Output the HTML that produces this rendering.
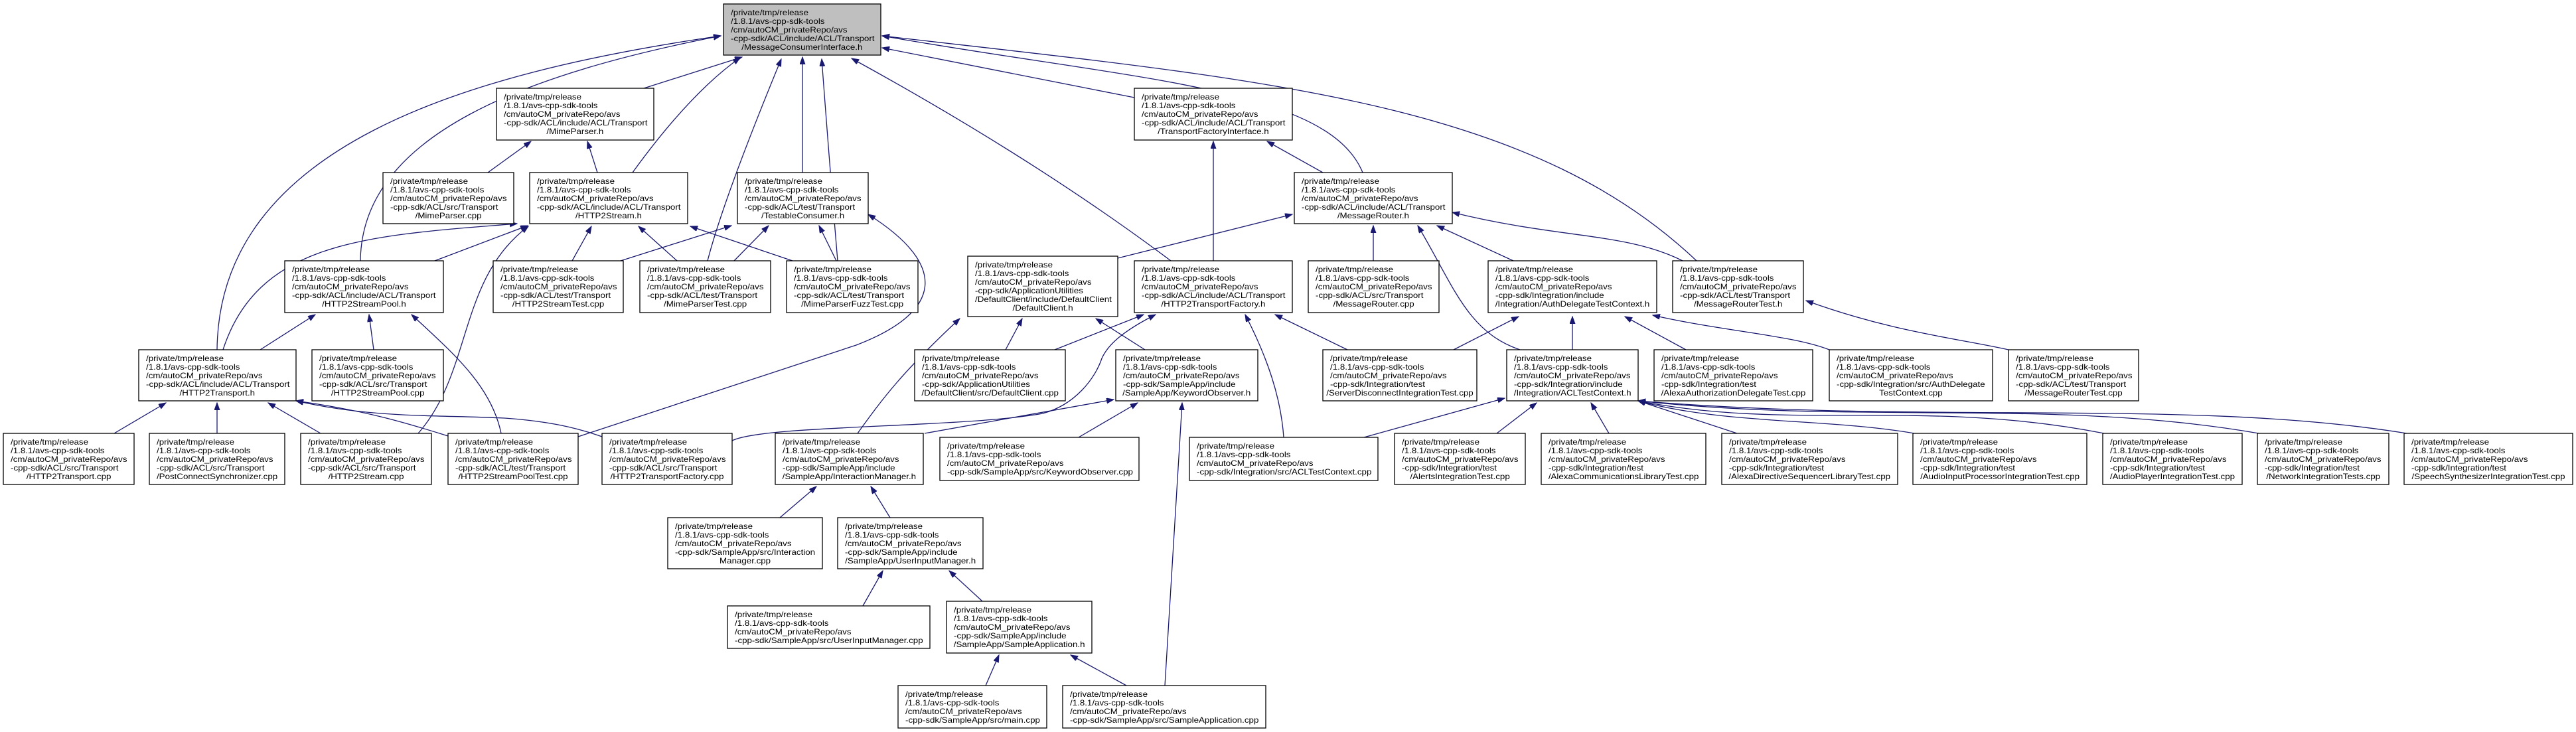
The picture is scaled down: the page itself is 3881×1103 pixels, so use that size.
<!DOCTYPE html>
<html><head><meta charset="utf-8"><style>
html,body{margin:0;padding:0;background:#fff;}
svg{display:block;}
text{font-family:"Liberation Sans",Arial,sans-serif;font-size:11.5px;fill:#000;}
rect{fill:#fff;stroke:#000;stroke-width:1.3;}
.e{fill:none;stroke:#191970;stroke-width:1.3;marker-start:url(#a);}
</style></head><body>
<svg width="3881" height="1103" viewBox="0 0 3881 1103" xmlns="http://www.w3.org/2000/svg">
<defs><marker id="a" markerUnits="userSpaceOnUse" markerWidth="12" markerHeight="9" refX="11" refY="4" orient="auto-start-reverse"><path d="M0,0 L11,4 L0,8 z" fill="#191970" stroke="#191970"/></marker></defs>
<g>
<path class="e" d="M1118,86 L970,133"/>
<path class="e" d="M1115,87 Q1040,140 953,260"/>
<path class="e" d="M1209,86 L1209,260"/>
<path class="e" d="M1177,89 Q1090,300 1066,393"/>
<path class="e" d="M1238,89 Q1250,250 1262,393"/>
<path class="e" d="M1283,88 Q1560,240 1764,393"/>
<path class="e" d="M1086,54 C800,110 545,200 543,393"/>
<path class="e" d="M1086,54 C700,110 330,220 327,527"/>
<path class="e" d="M1329,72 L1709,147"/>
<path class="e" d="M1329,54 C1700,120 2000,130 2053,260"/>
<path class="e" d="M1329,54 C1900,120 2300,150 2556,393"/>
<path class="e" d="M800,213 L735,260"/>
<path class="e" d="M885,213 L900,260"/>
<path class="e" d="M795,340 L655,393"/>
<path class="e" d="M779,337 C560,355 390,360 336,527"/>
<path class="e" d="M891,341 L862,393"/>
<path class="e" d="M962,341 L1020,393"/>
<path class="e" d="M1040,341 L1194,393"/>
<path class="e" d="M796,341 C690,420 712,560 630,653"/>
<path class="e" d="M620,474 C680,530 740,580 755,653"/>
<path class="e" d="M1102,340 L935,393"/>
<path class="e" d="M1158,340 L1106,393"/>
<path class="e" d="M1234,340 L1260,393"/>
<path class="e" d="M1308,323 C1430,400 1420,470 1290,520 L871,658"/>
<path class="e" d="M475,474 L392,527"/>
<path class="e" d="M556,474 L563,527"/>
<path class="e" d="M250,607 L172,653"/>
<path class="e" d="M327,607 L327,653"/>
<path class="e" d="M404,607 L483,653"/>
<path class="e" d="M446,604 C560,620 620,640 675,657"/>
<path class="e" d="M446,604 C560,630 650,625 760,630 C830,635 870,645 907,658"/>
<path class="e" d="M1828,213 L1828,393"/>
<path class="e" d="M1909,213 L1993,260"/>
<path class="e" d="M1947,323 L1684,389"/>
<path class="e" d="M2069,340 L2069,393"/>
<path class="e" d="M2165,340 L2280,393"/>
<path class="e" d="M2136,340 C2190,430 2210,500 2290,527"/>
<path class="e" d="M2188,320 C2350,360 2450,350 2535,393"/>
<path class="e" d="M1540,480 L1515,527"/>
<path class="e" d="M1651,480 L1725,527"/>
<path class="e" d="M1446,480 C1360,560 1330,600 1292,653"/>
<path class="e" d="M1723,474 L1589,527"/>
<path class="e" d="M1741,474 C1690,500 1669,520 1660,540 C1650,570 1620,610 1571,623 C1450,645 1150,640 1103,664"/>
<path class="e" d="M1921,474 L2030,527"/>
<path class="e" d="M1876,474 C1910,540 1930,600 1934,659"/>
<path class="e" d="M1678,602 L1393,653"/>
<path class="e" d="M1714,607 L1625,659"/>
<path class="e" d="M1781,607 L1755,1033"/>
<path class="e" d="M2288,477 L2190,527"/>
<path class="e" d="M2369,477 L2369,527"/>
<path class="e" d="M2448,477 L2540,527"/>
<path class="e" d="M2490,475 C2600,500 2700,505 2756,527"/>
<path class="e" d="M2721,453 C2850,500 2950,510 3026,527"/>
<path class="e" d="M2267,600 L2055,659"/>
<path class="e" d="M2315,607 L2255,653"/>
<path class="e" d="M2397,607 L2424,653"/>
<path class="e" d="M2468,604 L2617,653"/>
<path class="e" d="M2468,604 C2600,640 2750,630 2884,653"/>
<path class="e" d="M2468,604 C2700,650 2900,600 3170,653"/>
<path class="e" d="M2468,604 C2800,640 3100,600 3403,653"/>
<path class="e" d="M2468,604 C2900,640 3300,600 3626,653"/>
<path class="e" d="M1230,733 L1175,780"/>
<path class="e" d="M1312,733 L1341,780"/>
<path class="e" d="M1330,860 L1300,913"/>
<path class="e" d="M1430,860 L1480,906"/>
<path class="e" d="M1505,987 L1485,1033"/>
<path class="e" d="M1613,987 L1697,1033"/>
</g>

<g transform="translate(1090,6)"><rect width="237" height="77" style="fill:#bfbfbf"/><text transform="scale(1.16,1)"><tspan x="9.5" y="17">/private/tmp/release</tspan><tspan x="9.5" y="30">/1.8.1/avs-cpp-sdk-tools</tspan><tspan x="9.5" y="43">/cm/autoCM_privateRepo/avs</tspan><tspan x="9.5" y="56">-cpp-sdk/ACL/include/ACL/Transport</tspan><tspan x="102" y="69" text-anchor="middle">/MessageConsumerInterface.h</tspan></text></g>

<g transform="translate(748,133)"><rect width="237" height="78"/><text transform="scale(1.16,1)"><tspan x="9.5" y="17">/private/tmp/release</tspan><tspan x="9.5" y="30">/1.8.1/avs-cpp-sdk-tools</tspan><tspan x="9.5" y="43">/cm/autoCM_privateRepo/avs</tspan><tspan x="9.5" y="56">-cpp-sdk/ACL/include/ACL/Transport</tspan><tspan x="102" y="69" text-anchor="middle">/MimeParser.h</tspan></text></g>

<g transform="translate(1709,133)"><rect width="238" height="78"/><text transform="scale(1.16,1)"><tspan x="9.5" y="17">/private/tmp/release</tspan><tspan x="9.5" y="30">/1.8.1/avs-cpp-sdk-tools</tspan><tspan x="9.5" y="43">/cm/autoCM_privateRepo/avs</tspan><tspan x="9.5" y="56">-cpp-sdk/ACL/include/ACL/Transport</tspan><tspan x="102.5" y="69" text-anchor="middle">/TransportFactoryInterface.h</tspan></text></g>

<g transform="translate(577,260)"><rect width="197" height="77"/><text transform="scale(1.16,1)"><tspan x="9.5" y="17">/private/tmp/release</tspan><tspan x="9.5" y="30">/1.8.1/avs-cpp-sdk-tools</tspan><tspan x="9.5" y="43">/cm/autoCM_privateRepo/avs</tspan><tspan x="9.5" y="56">-cpp-sdk/ACL/src/Transport</tspan><tspan x="85" y="69" text-anchor="middle">/MimeParser.cpp</tspan></text></g>

<g transform="translate(798,260)"><rect width="238" height="77"/><text transform="scale(1.16,1)"><tspan x="9.5" y="17">/private/tmp/release</tspan><tspan x="9.5" y="30">/1.8.1/avs-cpp-sdk-tools</tspan><tspan x="9.5" y="43">/cm/autoCM_privateRepo/avs</tspan><tspan x="9.5" y="56">-cpp-sdk/ACL/include/ACL/Transport</tspan><tspan x="102.5" y="69" text-anchor="middle">/HTTP2Stream.h</tspan></text></g>

<g transform="translate(1111,260)"><rect width="197" height="77"/><text transform="scale(1.16,1)"><tspan x="9.5" y="17">/private/tmp/release</tspan><tspan x="9.5" y="30">/1.8.1/avs-cpp-sdk-tools</tspan><tspan x="9.5" y="43">/cm/autoCM_privateRepo/avs</tspan><tspan x="9.5" y="56">-cpp-sdk/ACL/test/Transport</tspan><tspan x="85" y="69" text-anchor="middle">/TestableConsumer.h</tspan></text></g>

<g transform="translate(1950,260)"><rect width="238" height="77"/><text transform="scale(1.16,1)"><tspan x="9.5" y="17">/private/tmp/release</tspan><tspan x="9.5" y="30">/1.8.1/avs-cpp-sdk-tools</tspan><tspan x="9.5" y="43">/cm/autoCM_privateRepo/avs</tspan><tspan x="9.5" y="56">-cpp-sdk/ACL/include/ACL/Transport</tspan><tspan x="102.5" y="69" text-anchor="middle">/MessageRouter.h</tspan></text></g>

<g transform="translate(429,393)"><rect width="239" height="78"/><text transform="scale(1.16,1)"><tspan x="9.5" y="17">/private/tmp/release</tspan><tspan x="9.5" y="30">/1.8.1/avs-cpp-sdk-tools</tspan><tspan x="9.5" y="43">/cm/autoCM_privateRepo/avs</tspan><tspan x="9.5" y="56">-cpp-sdk/ACL/include/ACL/Transport</tspan><tspan x="103" y="69" text-anchor="middle">/HTTP2StreamPool.h</tspan></text></g>

<g transform="translate(743,393)"><rect width="196" height="78"/><text transform="scale(1.16,1)"><tspan x="9.5" y="17">/private/tmp/release</tspan><tspan x="9.5" y="30">/1.8.1/avs-cpp-sdk-tools</tspan><tspan x="9.5" y="43">/cm/autoCM_privateRepo/avs</tspan><tspan x="9.5" y="56">-cpp-sdk/ACL/test/Transport</tspan><tspan x="84.5" y="69" text-anchor="middle">/HTTP2StreamTest.cpp</tspan></text></g>

<g transform="translate(964,393)"><rect width="197" height="78"/><text transform="scale(1.16,1)"><tspan x="9.5" y="17">/private/tmp/release</tspan><tspan x="9.5" y="30">/1.8.1/avs-cpp-sdk-tools</tspan><tspan x="9.5" y="43">/cm/autoCM_privateRepo/avs</tspan><tspan x="9.5" y="56">-cpp-sdk/ACL/test/Transport</tspan><tspan x="85" y="69" text-anchor="middle">/MimeParserTest.cpp</tspan></text></g>

<g transform="translate(1185,393)"><rect width="198" height="78"/><text transform="scale(1.16,1)"><tspan x="9.5" y="17">/private/tmp/release</tspan><tspan x="9.5" y="30">/1.8.1/avs-cpp-sdk-tools</tspan><tspan x="9.5" y="43">/cm/autoCM_privateRepo/avs</tspan><tspan x="9.5" y="56">-cpp-sdk/ACL/test/Transport</tspan><tspan x="85.5" y="69" text-anchor="middle">/MimeParserFuzzTest.cpp</tspan></text></g>

<g transform="translate(1458,386)"><rect width="226" height="91"/><text transform="scale(1.16,1)"><tspan x="9.5" y="17">/private/tmp/release</tspan><tspan x="9.5" y="30">/1.8.1/avs-cpp-sdk-tools</tspan><tspan x="9.5" y="43">/cm/autoCM_privateRepo/avs</tspan><tspan x="9.5" y="56">-cpp-sdk/ApplicationUtilities</tspan><tspan x="9.5" y="69">/DefaultClient/include/DefaultClient</tspan><tspan x="97.5" y="82" text-anchor="middle">/DefaultClient.h</tspan></text></g>

<g transform="translate(1709,393)"><rect width="238" height="78"/><text transform="scale(1.16,1)"><tspan x="9.5" y="17">/private/tmp/release</tspan><tspan x="9.5" y="30">/1.8.1/avs-cpp-sdk-tools</tspan><tspan x="9.5" y="43">/cm/autoCM_privateRepo/avs</tspan><tspan x="9.5" y="56">-cpp-sdk/ACL/include/ACL/Transport</tspan><tspan x="102.5" y="69" text-anchor="middle">/HTTP2TransportFactory.h</tspan></text></g>

<g transform="translate(1971,393)"><rect width="197" height="78"/><text transform="scale(1.16,1)"><tspan x="9.5" y="17">/private/tmp/release</tspan><tspan x="9.5" y="30">/1.8.1/avs-cpp-sdk-tools</tspan><tspan x="9.5" y="43">/cm/autoCM_privateRepo/avs</tspan><tspan x="9.5" y="56">-cpp-sdk/ACL/src/Transport</tspan><tspan x="85" y="69" text-anchor="middle">/MessageRouter.cpp</tspan></text></g>

<g transform="translate(2242,393)"><rect width="254" height="78"/><text transform="scale(1.16,1)"><tspan x="9.5" y="17">/private/tmp/release</tspan><tspan x="9.5" y="30">/1.8.1/avs-cpp-sdk-tools</tspan><tspan x="9.5" y="43">/cm/autoCM_privateRepo/avs</tspan><tspan x="9.5" y="56">-cpp-sdk/Integration/include</tspan><tspan x="109.5" y="69" text-anchor="middle">/Integration/AuthDelegateTestContext.h</tspan></text></g>

<g transform="translate(2520,393)"><rect width="197" height="78"/><text transform="scale(1.16,1)"><tspan x="9.5" y="17">/private/tmp/release</tspan><tspan x="9.5" y="30">/1.8.1/avs-cpp-sdk-tools</tspan><tspan x="9.5" y="43">/cm/autoCM_privateRepo/avs</tspan><tspan x="9.5" y="56">-cpp-sdk/ACL/test/Transport</tspan><tspan x="85" y="69" text-anchor="middle">/MessageRouterTest.h</tspan></text></g>

<g transform="translate(209,527)"><rect width="237" height="77"/><text transform="scale(1.16,1)"><tspan x="9.5" y="17">/private/tmp/release</tspan><tspan x="9.5" y="30">/1.8.1/avs-cpp-sdk-tools</tspan><tspan x="9.5" y="43">/cm/autoCM_privateRepo/avs</tspan><tspan x="9.5" y="56">-cpp-sdk/ACL/include/ACL/Transport</tspan><tspan x="102" y="69" text-anchor="middle">/HTTP2Transport.h</tspan></text></g>

<g transform="translate(470,527)"><rect width="198" height="77"/><text transform="scale(1.16,1)"><tspan x="9.5" y="17">/private/tmp/release</tspan><tspan x="9.5" y="30">/1.8.1/avs-cpp-sdk-tools</tspan><tspan x="9.5" y="43">/cm/autoCM_privateRepo/avs</tspan><tspan x="9.5" y="56">-cpp-sdk/ACL/src/Transport</tspan><tspan x="85.5" y="69" text-anchor="middle">/HTTP2StreamPool.cpp</tspan></text></g>

<g transform="translate(1378,527)"><rect width="227" height="77"/><text transform="scale(1.16,1)"><tspan x="9.5" y="17">/private/tmp/release</tspan><tspan x="9.5" y="30">/1.8.1/avs-cpp-sdk-tools</tspan><tspan x="9.5" y="43">/cm/autoCM_privateRepo/avs</tspan><tspan x="9.5" y="56">-cpp-sdk/ApplicationUtilities</tspan><tspan x="98" y="69" text-anchor="middle">/DefaultClient/src/DefaultClient.cpp</tspan></text></g>

<g transform="translate(1681,527)"><rect width="214" height="77"/><text transform="scale(1.16,1)"><tspan x="9.5" y="17">/private/tmp/release</tspan><tspan x="9.5" y="30">/1.8.1/avs-cpp-sdk-tools</tspan><tspan x="9.5" y="43">/cm/autoCM_privateRepo/avs</tspan><tspan x="9.5" y="56">-cpp-sdk/SampleApp/include</tspan><tspan x="92" y="69" text-anchor="middle">/SampleApp/KeywordObserver.h</tspan></text></g>

<g transform="translate(1993,527)"><rect width="232" height="77"/><text transform="scale(1.16,1)"><tspan x="9.5" y="17">/private/tmp/release</tspan><tspan x="9.5" y="30">/1.8.1/avs-cpp-sdk-tools</tspan><tspan x="9.5" y="43">/cm/autoCM_privateRepo/avs</tspan><tspan x="9.5" y="56">-cpp-sdk/Integration/test</tspan><tspan x="100" y="69" text-anchor="middle">/ServerDisconnectIntegrationTest.cpp</tspan></text></g>

<g transform="translate(2270,527)"><rect width="198" height="77"/><text transform="scale(1.16,1)"><tspan x="9.5" y="17">/private/tmp/release</tspan><tspan x="9.5" y="30">/1.8.1/avs-cpp-sdk-tools</tspan><tspan x="9.5" y="43">/cm/autoCM_privateRepo/avs</tspan><tspan x="9.5" y="56">-cpp-sdk/Integration/include</tspan><tspan x="85.5" y="69" text-anchor="middle">/Integration/ACLTestContext.h</tspan></text></g>

<g transform="translate(2492,527)"><rect width="239" height="77"/><text transform="scale(1.16,1)"><tspan x="9.5" y="17">/private/tmp/release</tspan><tspan x="9.5" y="30">/1.8.1/avs-cpp-sdk-tools</tspan><tspan x="9.5" y="43">/cm/autoCM_privateRepo/avs</tspan><tspan x="9.5" y="56">-cpp-sdk/Integration/test</tspan><tspan x="103" y="69" text-anchor="middle">/AlexaAuthorizationDelegateTest.cpp</tspan></text></g>

<g transform="translate(2756,527)"><rect width="246" height="77"/><text transform="scale(1.16,1)"><tspan x="9.5" y="17">/private/tmp/release</tspan><tspan x="9.5" y="30">/1.8.1/avs-cpp-sdk-tools</tspan><tspan x="9.5" y="43">/cm/autoCM_privateRepo/avs</tspan><tspan x="9.5" y="56">-cpp-sdk/Integration/src/AuthDelegate</tspan><tspan x="106" y="69" text-anchor="middle">TestContext.cpp</tspan></text></g>

<g transform="translate(3026,527)"><rect width="196" height="77"/><text transform="scale(1.16,1)"><tspan x="9.5" y="17">/private/tmp/release</tspan><tspan x="9.5" y="30">/1.8.1/avs-cpp-sdk-tools</tspan><tspan x="9.5" y="43">/cm/autoCM_privateRepo/avs</tspan><tspan x="9.5" y="56">-cpp-sdk/ACL/test/Transport</tspan><tspan x="84.5" y="69" text-anchor="middle">/MessageRouterTest.cpp</tspan></text></g>

<g transform="translate(5,653)"><rect width="197" height="77"/><text transform="scale(1.16,1)"><tspan x="9.5" y="17">/private/tmp/release</tspan><tspan x="9.5" y="30">/1.8.1/avs-cpp-sdk-tools</tspan><tspan x="9.5" y="43">/cm/autoCM_privateRepo/avs</tspan><tspan x="9.5" y="56">-cpp-sdk/ACL/src/Transport</tspan><tspan x="85" y="69" text-anchor="middle">/HTTP2Transport.cpp</tspan></text></g>

<g transform="translate(225,653)"><rect width="204" height="77"/><text transform="scale(1.16,1)"><tspan x="9.5" y="17">/private/tmp/release</tspan><tspan x="9.5" y="30">/1.8.1/avs-cpp-sdk-tools</tspan><tspan x="9.5" y="43">/cm/autoCM_privateRepo/avs</tspan><tspan x="9.5" y="56">-cpp-sdk/ACL/src/Transport</tspan><tspan x="88" y="69" text-anchor="middle">/PostConnectSynchronizer.cpp</tspan></text></g>

<g transform="translate(453,653)"><rect width="197" height="77"/><text transform="scale(1.16,1)"><tspan x="9.5" y="17">/private/tmp/release</tspan><tspan x="9.5" y="30">/1.8.1/avs-cpp-sdk-tools</tspan><tspan x="9.5" y="43">/cm/autoCM_privateRepo/avs</tspan><tspan x="9.5" y="56">-cpp-sdk/ACL/src/Transport</tspan><tspan x="85" y="69" text-anchor="middle">/HTTP2Stream.cpp</tspan></text></g>

<g transform="translate(675,653)"><rect width="196" height="77"/><text transform="scale(1.16,1)"><tspan x="9.5" y="17">/private/tmp/release</tspan><tspan x="9.5" y="30">/1.8.1/avs-cpp-sdk-tools</tspan><tspan x="9.5" y="43">/cm/autoCM_privateRepo/avs</tspan><tspan x="9.5" y="56">-cpp-sdk/ACL/test/Transport</tspan><tspan x="84.5" y="69" text-anchor="middle">/HTTP2StreamPoolTest.cpp</tspan></text></g>

<g transform="translate(907,653)"><rect width="196" height="77"/><text transform="scale(1.16,1)"><tspan x="9.5" y="17">/private/tmp/release</tspan><tspan x="9.5" y="30">/1.8.1/avs-cpp-sdk-tools</tspan><tspan x="9.5" y="43">/cm/autoCM_privateRepo/avs</tspan><tspan x="9.5" y="56">-cpp-sdk/ACL/src/Transport</tspan><tspan x="84.5" y="69" text-anchor="middle">/HTTP2TransportFactory.cpp</tspan></text></g>

<g transform="translate(1168,653)"><rect width="223" height="77"/><text transform="scale(1.16,1)"><tspan x="9.5" y="17">/private/tmp/release</tspan><tspan x="9.5" y="30">/1.8.1/avs-cpp-sdk-tools</tspan><tspan x="9.5" y="43">/cm/autoCM_privateRepo/avs</tspan><tspan x="9.5" y="56">-cpp-sdk/SampleApp/include</tspan><tspan x="96" y="69" text-anchor="middle">/SampleApp/InteractionManager.h</tspan></text></g>

<g transform="translate(1416,659)"><rect width="300" height="65"/><text transform="scale(1.16,1)"><tspan x="9.5" y="17">/private/tmp/release</tspan><tspan x="9.5" y="30">/1.8.1/avs-cpp-sdk-tools</tspan><tspan x="9.5" y="43">/cm/autoCM_privateRepo/avs</tspan><tspan x="9.5" y="56">-cpp-sdk/SampleApp/src/KeywordObserver.cpp</tspan></text></g>

<g transform="translate(1792,659)"><rect width="284" height="65"/><text transform="scale(1.16,1)"><tspan x="9.5" y="17">/private/tmp/release</tspan><tspan x="9.5" y="30">/1.8.1/avs-cpp-sdk-tools</tspan><tspan x="9.5" y="43">/cm/autoCM_privateRepo/avs</tspan><tspan x="9.5" y="56">-cpp-sdk/Integration/src/ACLTestContext.cpp</tspan></text></g>

<g transform="translate(2101,653)"><rect width="197" height="77"/><text transform="scale(1.16,1)"><tspan x="9.5" y="17">/private/tmp/release</tspan><tspan x="9.5" y="30">/1.8.1/avs-cpp-sdk-tools</tspan><tspan x="9.5" y="43">/cm/autoCM_privateRepo/avs</tspan><tspan x="9.5" y="56">-cpp-sdk/Integration/test</tspan><tspan x="85" y="69" text-anchor="middle">/AlertsIntegrationTest.cpp</tspan></text></g>

<g transform="translate(2322,653)"><rect width="248" height="77"/><text transform="scale(1.16,1)"><tspan x="9.5" y="17">/private/tmp/release</tspan><tspan x="9.5" y="30">/1.8.1/avs-cpp-sdk-tools</tspan><tspan x="9.5" y="43">/cm/autoCM_privateRepo/avs</tspan><tspan x="9.5" y="56">-cpp-sdk/Integration/test</tspan><tspan x="107" y="69" text-anchor="middle">/AlexaCommunicationsLibraryTest.cpp</tspan></text></g>

<g transform="translate(2594,653)"><rect width="265" height="77"/><text transform="scale(1.16,1)"><tspan x="9.5" y="17">/private/tmp/release</tspan><tspan x="9.5" y="30">/1.8.1/avs-cpp-sdk-tools</tspan><tspan x="9.5" y="43">/cm/autoCM_privateRepo/avs</tspan><tspan x="9.5" y="56">-cpp-sdk/Integration/test</tspan><tspan x="114" y="69" text-anchor="middle">/AlexaDirectiveSequencerLibraryTest.cpp</tspan></text></g>

<g transform="translate(2882,653)"><rect width="262" height="77"/><text transform="scale(1.16,1)"><tspan x="9.5" y="17">/private/tmp/release</tspan><tspan x="9.5" y="30">/1.8.1/avs-cpp-sdk-tools</tspan><tspan x="9.5" y="43">/cm/autoCM_privateRepo/avs</tspan><tspan x="9.5" y="56">-cpp-sdk/Integration/test</tspan><tspan x="113" y="69" text-anchor="middle">/AudioInputProcessorIntegrationTest.cpp</tspan></text></g>

<g transform="translate(3168,653)"><rect width="210" height="77"/><text transform="scale(1.16,1)"><tspan x="9.5" y="17">/private/tmp/release</tspan><tspan x="9.5" y="30">/1.8.1/avs-cpp-sdk-tools</tspan><tspan x="9.5" y="43">/cm/autoCM_privateRepo/avs</tspan><tspan x="9.5" y="56">-cpp-sdk/Integration/test</tspan><tspan x="90.5" y="69" text-anchor="middle">/AudioPlayerIntegrationTest.cpp</tspan></text></g>

<g transform="translate(3401,653)"><rect width="198" height="77"/><text transform="scale(1.16,1)"><tspan x="9.5" y="17">/private/tmp/release</tspan><tspan x="9.5" y="30">/1.8.1/avs-cpp-sdk-tools</tspan><tspan x="9.5" y="43">/cm/autoCM_privateRepo/avs</tspan><tspan x="9.5" y="56">-cpp-sdk/Integration/test</tspan><tspan x="85.5" y="69" text-anchor="middle">/NetworkIntegrationTests.cpp</tspan></text></g>

<g transform="translate(3622,653)"><rect width="254" height="77"/><text transform="scale(1.16,1)"><tspan x="9.5" y="17">/private/tmp/release</tspan><tspan x="9.5" y="30">/1.8.1/avs-cpp-sdk-tools</tspan><tspan x="9.5" y="43">/cm/autoCM_privateRepo/avs</tspan><tspan x="9.5" y="56">-cpp-sdk/Integration/test</tspan><tspan x="109.5" y="69" text-anchor="middle">/SpeechSynthesizerIntegrationTest.cpp</tspan></text></g>

<g transform="translate(1006,780)"><rect width="233" height="77"/><text transform="scale(1.16,1)"><tspan x="9.5" y="17">/private/tmp/release</tspan><tspan x="9.5" y="30">/1.8.1/avs-cpp-sdk-tools</tspan><tspan x="9.5" y="43">/cm/autoCM_privateRepo/avs</tspan><tspan x="9.5" y="56">-cpp-sdk/SampleApp/src/Interaction</tspan><tspan x="100.5" y="69" text-anchor="middle">Manager.cpp</tspan></text></g>

<g transform="translate(1262,780)"><rect width="219" height="77"/><text transform="scale(1.16,1)"><tspan x="9.5" y="17">/private/tmp/release</tspan><tspan x="9.5" y="30">/1.8.1/avs-cpp-sdk-tools</tspan><tspan x="9.5" y="43">/cm/autoCM_privateRepo/avs</tspan><tspan x="9.5" y="56">-cpp-sdk/SampleApp/include</tspan><tspan x="94.5" y="69" text-anchor="middle">/SampleApp/UserInputManager.h</tspan></text></g>

<g transform="translate(1096,913)"><rect width="305" height="64"/><text transform="scale(1.16,1)"><tspan x="9.5" y="17">/private/tmp/release</tspan><tspan x="9.5" y="30">/1.8.1/avs-cpp-sdk-tools</tspan><tspan x="9.5" y="43">/cm/autoCM_privateRepo/avs</tspan><tspan x="9.5" y="56">-cpp-sdk/SampleApp/src/UserInputManager.cpp</tspan></text></g>

<g transform="translate(1426,906)"><rect width="219" height="78"/><text transform="scale(1.16,1)"><tspan x="9.5" y="17">/private/tmp/release</tspan><tspan x="9.5" y="30">/1.8.1/avs-cpp-sdk-tools</tspan><tspan x="9.5" y="43">/cm/autoCM_privateRepo/avs</tspan><tspan x="9.5" y="56">-cpp-sdk/SampleApp/include</tspan><tspan x="94.5" y="69" text-anchor="middle">/SampleApp/SampleApplication.h</tspan></text></g>

<g transform="translate(1353,1033)"><rect width="224" height="64"/><text transform="scale(1.16,1)"><tspan x="9.5" y="17">/private/tmp/release</tspan><tspan x="9.5" y="30">/1.8.1/avs-cpp-sdk-tools</tspan><tspan x="9.5" y="43">/cm/autoCM_privateRepo/avs</tspan><tspan x="9.5" y="56">-cpp-sdk/SampleApp/src/main.cpp</tspan></text></g>

<g transform="translate(1601,1033)"><rect width="306" height="64"/><text transform="scale(1.16,1)"><tspan x="9.5" y="17">/private/tmp/release</tspan><tspan x="9.5" y="30">/1.8.1/avs-cpp-sdk-tools</tspan><tspan x="9.5" y="43">/cm/autoCM_privateRepo/avs</tspan><tspan x="9.5" y="56">-cpp-sdk/SampleApp/src/SampleApplication.cpp</tspan></text></g>
</svg>
</body></html>
